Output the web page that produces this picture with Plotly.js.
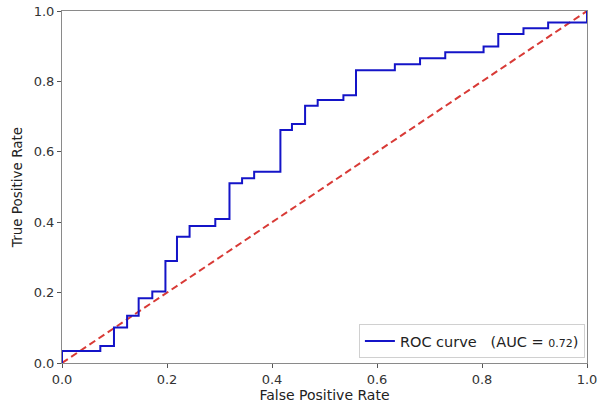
<!DOCTYPE html>
<html>
<head>
<meta charset="utf-8">
<script src="https://cdn.plot.ly/plotly-3.0.1.min.js"></script>
<style>html,body{margin:0;padding:0;background:#fff;}#chart{width:597px;height:410px;}</style>
</head>
<body>
<div id="chart"></div>
<script>
const fpr = [0, 0, 0.073, 0.099, 0.124, 0.146, 0.172, 0.197, 0.219, 0.243, 0.292, 0.319, 0.343, 0.366, 0.416, 0.438, 0.463, 0.487, 0.536, 0.560, 0.634, 0.682, 0.730, 0.803, 0.831, 0.879, 0.926, 1.0];
const tpr = [0, 0.034, 0.048, 0.101, 0.134, 0.184, 0.203, 0.290, 0.359, 0.389, 0.409, 0.511, 0.525, 0.543, 0.662, 0.679, 0.731, 0.747, 0.761, 0.832, 0.849, 0.866, 0.883, 0.899, 0.935, 0.951, 0.967, 1.0];
const chanceX = [0, 1];
const chanceY = [0, 1];
const aucValue = "0.72";
const tickVals = [0, 0.2, 0.4, 0.6, 0.8, 1.0];
const tickText = ["0.0", "0.2", "0.4", "0.6", "0.8", "1.0"];

const font = "DejaVu Sans, sans-serif";
const traces = [
  {
    x: chanceX, y: chanceY, mode: "lines", showlegend: false,
    line: {color: "#d83a36", width: 2, dash: "7px,4px"}, hoverinfo: "skip"
  },
  {
    x: fpr, y: tpr, mode: "lines", line: {color: "#1414c8", width: 2, shape: "hv"},
    name: "ROC curve   (AUC = <span style='font-size:11px'>" + aucValue + "</span>)"
  }
];
const axisCommon = {
  range: [0, 1], showgrid: false, zeroline: false, showline: true, mirror: true,
  linecolor: "#8a8a8a", linewidth: 1, ticks: "outside", ticklen: 4, tickcolor: "#555",
  tickvals: tickVals, ticktext: tickText, ticklabeloverflow: "allow",
  tickfont: {family: font, size: 13, color: "#333"}
};
const layout = {
  width: 597, height: 410,
  margin: {l: 62, r: 10, t: 11, b: 47},
  paper_bgcolor: "#fff", plot_bgcolor: "#fff",
  xaxis: Object.assign({}, axisCommon, {
    title: {text: "False Positive Rate", font: {family: font, size: 14, color: "#222"}, standoff: 2}
  }),
  yaxis: Object.assign({}, axisCommon, {
    title: {text: "True Positive Rate", font: {family: font, size: 13.5, color: "#222"}, standoff: 7}
  }),
  legend: {
    x: 0.996, y: 0.014, xanchor: "right", yanchor: "bottom",
    bgcolor: "#fff", bordercolor: "#d0d0d0", borderwidth: 1,
    font: {family: font, size: 14.5, color: "#222"}
  }
};
Plotly.newPlot("chart", traces, layout, {staticPlot: true, displayModeBar: false});
</script>
</body>
</html>
